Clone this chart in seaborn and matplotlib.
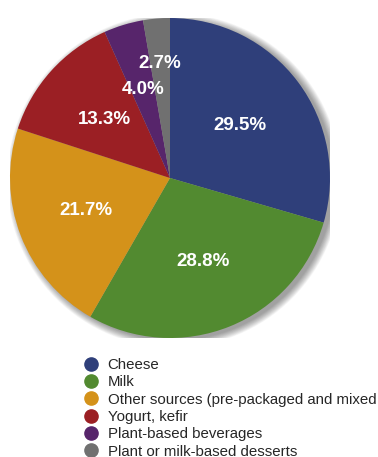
import matplotlib
matplotlib.use("Agg")
import matplotlib.pyplot as plt
from matplotlib.lines import Line2D
from matplotlib.patches import Circle
import numpy as np
import seaborn as sns

categories = ["Cheese", "Milk", "Other sources (pre-packaged and mixed",
              "Yogurt, kefir", "Plant-based beverages", "Plant or milk-based desserts"]
shares = [29.5, 28.8, 21.7, 13.3, 4.0, 2.7]
colors = ["#2f3f7a", "#528a30", "#d4921a", "#9b1f24", "#57256b", "#707070"]

sns.set_theme(style="white")
plt.rcParams["font.family"] = ["Liberation Sans", "DejaVu Sans"]

fig = plt.figure(figsize=(3.78, 4.57), dpi=100)
ax = fig.add_axes([10 / 378, 1 - 338 / 457, 320 / 378, 320 / 457])

# soft drop shadow behind the pie
for i in range(12):
    r = 1.0 + 0.004 * i
    ax.add_patch(Circle((0.025, -0.015), r, color="black", alpha=0.035, lw=0, zorder=0))

wedges, _ = ax.pie(shares, colors=colors, startangle=90, counterclock=False,
                   wedgeprops=dict(linewidth=0, zorder=2))

dist = [0.55, 0.56, 0.56, 0.55, 0.58, 0.72]
for w, v, d in zip(wedges, shares, dist):
    ang = np.deg2rad((w.theta1 + w.theta2) / 2)
    ax.text(d * np.cos(ang), d * np.sin(ang), f"{v:.1f}%", color="white",
            fontsize=13.5, fontweight="bold", ha="center", va="center", zorder=3)

ax.set_xlim(-1, 1)
ax.set_ylim(-1, 1)
ax.set_aspect("equal")
ax.axis("off")

handles = [Line2D([], [], marker="o", linestyle="none", markersize=9.5,
                  markerfacecolor=c, markeredgecolor=c) for c in colors]
fig.legend(handles, categories, loc="upper left", bbox_to_anchor=(82 / 378, 1 - 358 / 457),
           frameon=False, fontsize=10.8, labelspacing=0.22, handletextpad=0.5,
           handlelength=1.2, borderpad=0, borderaxespad=0)

fig.savefig("out.png", dpi=100)
